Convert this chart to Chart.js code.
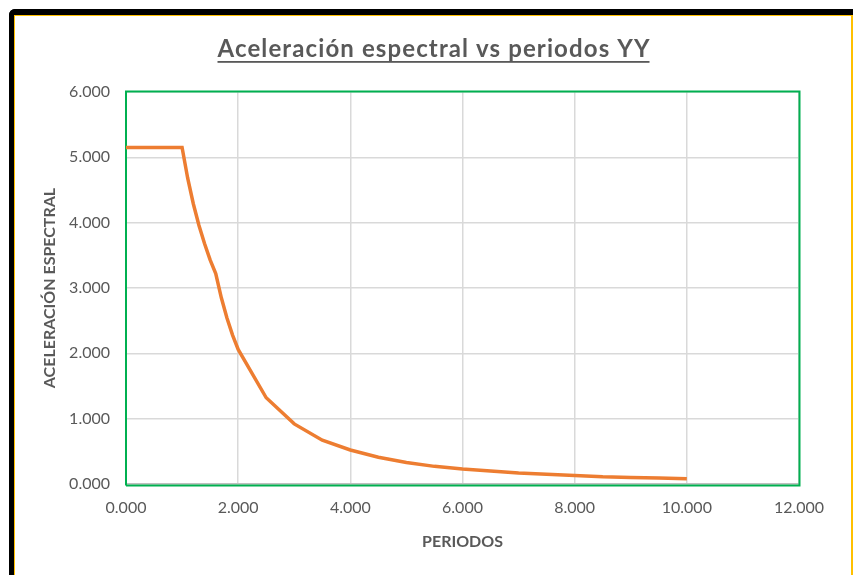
<!DOCTYPE html>
<html lang="es">
<head>
<meta charset="utf-8">
<title>Aceleración espectral vs periodos YY</title>
<script src="https://cdn.jsdelivr.net/npm/chart.js@4.4.1/dist/chart.umd.min.js"></script>
<style>
    html, body { margin: 0; padding: 0; background: #fff; }
    #wrap { position: relative; width: 853px; height: 575px; overflow: hidden; }
    #espectro { position: absolute; left: 0; top: 0; }
    .marco-negro {
        position: absolute; left: 9px; top: 9px; right: -20px; bottom: -20px;
        border-top: 6px solid #000; border-left: 6px solid #000;
        border-top-left-radius: 6px; pointer-events: none;
    }
    .marco-amarillo {
        position: absolute; left: 14px; top: 15px; width: 836px; bottom: -20px;
        border-top: 1.5px solid #ffc000; border-left: 1.5px solid #ffc000;
        border-right: 2px solid #ffc000; pointer-events: none;
    }
</style>
</head>
<body>
<div id="wrap">
    <canvas id="espectro" width="853" height="575"></canvas>
    <div class="marco-negro"></div>
    <div class="marco-amarillo"></div>
</div>
<script>
// Espectro de diseño: periodo T (s) vs aceleración espectral Sa
const periodos = [0.0, 0.2, 0.4, 0.6, 0.8, 1.0,
    1.1, 1.2, 1.3, 1.4, 1.5, 1.6, 1.7, 1.8, 1.9, 2.0,
    2.5, 3.0, 3.5, 4.0, 4.5, 5.0, 5.5, 6.0, 6.5, 7.0, 7.5, 8.0, 8.5, 9.0, 9.5, 10.0];
const aceleracion = [5.15, 5.15, 5.15, 5.15, 5.15, 5.15,
    4.68, 4.29, 3.96, 3.68, 3.43, 3.22, 2.85, 2.54, 2.28, 2.06,
    1.32, 0.92, 0.67, 0.52, 0.41, 0.33, 0.27, 0.23, 0.20, 0.17, 0.15, 0.13, 0.11, 0.10, 0.09, 0.08];

const tituloGrafico = "Aceleración espectral vs periodos YY";
const tituloX = "PERIODOS";
const tituloY = "ACELERACIÓN ESPECTRAL";

const gris = "#595959";
const naranja = "#ed7d31";
const verde = "#00b050";

// título subrayado, centrado sobre el gráfico y abierto hasta ~432px de ancho
const tituloPlugin = {
    id: "tituloSubrayado",
    afterDraw(chart) {
        const ctx = chart.ctx;
        ctx.save();
        ctx.font = "bold 24px Lato";
        ctx.fillStyle = gris;
        ctx.textAlign = "left";
        ctx.textBaseline = "alphabetic";
        const ancho = 432;
        const w0 = ctx.measureText(tituloGrafico).width;
        const extra = Math.max(0, (ancho - w0) / (tituloGrafico.length - 1));
        ctx.letterSpacing = extra.toFixed(2) + "px";
        const cx = 433.5;
        const base = 57;
        const x0 = cx - ancho / 2;
        ctx.fillText(tituloGrafico, x0, base);
        ctx.fillRect(x0, base + 4, ancho, 1.8);
        ctx.restore();
    }
};

// marco verde del área de trazado
const marcoPlugin = {
    id: "marcoVerde",
    beforeDatasetsDraw(chart) {
        const { left, top, right, bottom } = chart.chartArea;
        const ctx = chart.ctx;
        ctx.save();
        ctx.strokeStyle = verde;
        ctx.lineWidth = 2;
        ctx.beginPath();
        ctx.moveTo(left, bottom + 1.5);
        ctx.lineTo(left, top - 0.5);
        ctx.lineTo(right + 0.5, top - 0.5);
        ctx.lineTo(right + 0.5, bottom + 1.5);
        ctx.lineTo(left, bottom + 1.5);
        ctx.stroke();
        ctx.restore();
    }
};

const puntos = periodos.map((t, i) => ({ x: t, y: aceleracion[i] }));

new Chart(document.getElementById("espectro"), {
    type: "line",
    data: {
        datasets: [{
            label: "Sa",
            data: puntos,
            borderColor: naranja,
            borderWidth: 3.5,
            pointRadius: 0,
            tension: 0,
            fill: false
        }]
    },
    options: {
        responsive: false,
        animation: false,
        layout: { padding: { top: 92, right: 54, left: 0, bottom: 0 } },
        plugins: {
            legend: { display: false },
            tooltip: { enabled: false }
        },
        scales: {
            x: {
                type: "linear",
                min: 0,
                max: 12,
                ticks: {
                    stepSize: 2,
                    color: gris,
                    font: { family: "Lato", size: 16 },
                    padding: 14,
                    maxRotation: 0,
                    callback: v => v.toFixed(3)
                },
                grid: { color: "#d9d9d9", lineWidth: 1.5, drawTicks: false },
                border: { color: "#bfbfbf", width: 1.5 },
                title: {
                    display: true,
                    text: tituloX,
                    color: gris,
                    font: { family: "Lato", size: 16, weight: "bold" },
                    padding: { top: 0, bottom: 24 }
                },
                afterFit: scale => { scale.height = 91; }
            },
            y: {
                min: 0,
                max: 6,
                ticks: {
                    stepSize: 1,
                    color: gris,
                    font: { family: "Lato", size: 16 },
                    padding: 16,
                    callback: v => v.toFixed(3)
                },
                grid: { color: "#d9d9d9", lineWidth: 1.5, drawTicks: false },
                border: { display: false },
                title: {
                    display: true,
                    text: tituloY,
                    color: gris,
                    font: { family: "Lato", size: 16, weight: "bold" },
                    padding: { top: 40, bottom: 0 }
                },
                afterFit: scale => { scale.width = 126; }
            }
        }
    },
    plugins: [marcoPlugin, tituloPlugin]
});
</script>
</body>
</html>
